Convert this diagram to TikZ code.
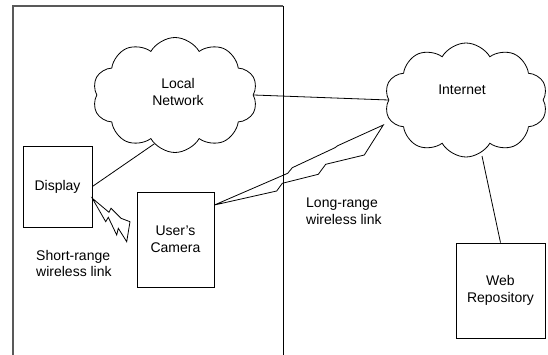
\documentclass[tikz,border=0pt]{standalone}
\usepackage{fontspec}
\setmainfont{Liberation Sans}
\usetikzlibrary{shapes.symbols}
\begin{document}
\begin{tikzpicture}[x=1pt,y=-1pt,
  txt/.style={font=\fontsize{14}{16.5}\selectfont, align=center, inner sep=0pt},
  boxnode/.style={draw, line width=0.8pt, txt, anchor=center},
  cloudnode/.style={draw, line width=0.8pt, cloud, cloud puffs=10, cloud puff arc=120,
    cloud ignores aspect, inner sep=0pt},
  link/.style={line width=0.8pt},
  bolt/.style={line width=0.8pt, line join=miter}]
\useasboundingbox (0,0) rectangle (548,355);
% frame
\draw[line width=1.3pt, black!65] (13,355) -- (13,6) -- (283,6);
\draw[line width=0.8pt] (283,6) -- (283,355);
% clouds
\node[cloudnode, minimum width=165pt, minimum height=115pt] (ln) at (175,95) {};
\node[txt] (lnt) at (178,92) {Local\\Network};
\node[cloudnode, minimum width=163pt, minimum height=114pt] (inet) at (466,100) {};
\node[txt] (inett) at (462,90) {Internet};
\coordinate (inetb) at (482,156);
% boxes
\node[boxnode, minimum width=69pt, minimum height=81pt] (disp) at (57.5,186.5) {Display};
\node[boxnode, minimum width=77pt, minimum height=95pt] (cam) at (175.5,239.5) {User's\\Camera};
\node[boxnode, minimum width=89pt, minimum height=95pt] (web) at (500.5,290.5) {Web\\Repository};
% labels
\node[txt, align=left, anchor=west] (srl) at (36,263.5) {Short-range\\wireless link};
\node[txt, align=left, anchor=west] (lrl) at (306,211.5) {Long-range\\wireless link};
% connectors
\draw[link] (ln.east) -- (inet.west);
\draw[link] (disp.east) -- (ln.247);
\draw[link] (inetb) -- (web.north);
% short-range bolt
\draw[bolt] (92.3,198.3) -- (105.7,221.7) -- (108.3,217.3) -- (116.7,235) -- (118.3,228.3)
  -- (126.7,241.7) -- (130,221.7) -- (121,218.3) -- (111,208.3) -- (109,212.3) -- cycle;
% long-range bolt
\draw[bolt] (cam.east |- 0,205) -- (276.7,191) -- (282.3,183.3) -- (318.3,174.3) -- (325.7,164.3)
  -- (364.3,155) -- (383.3,125) -- (337.7,145.7) -- (335,147.7) -- (292.3,167.7)
  -- (287.7,173.3) -- cycle;
\end{tikzpicture}
\end{document}
